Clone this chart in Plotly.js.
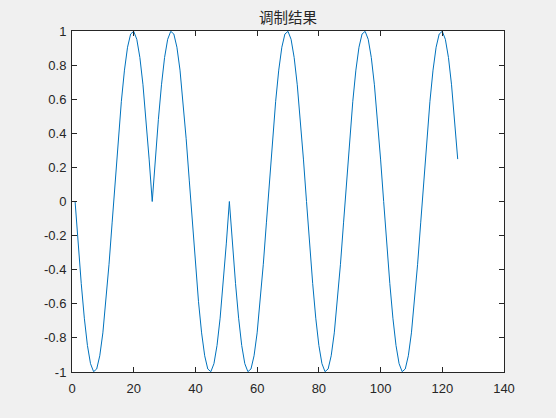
<!DOCTYPE html>
<html>
<head>
<meta charset="utf-8">
<script src="https://cdn.plot.ly/plotly-3.0.1.min.js"></script>
<style>
  html, body { margin: 0; padding: 0; background: #f0f0f0; }
  #chart { width: 556px; height: 418px; }
</style>
</head>
<body>
<div id="chart"></div>
<script>
// Sample index
const sampleIndex = [
  1,2,3,4,5,6,7,8,9,10,11,12,13,14,15,16,17,18,19,20,21,22,23,24,25,
  26,27,28,29,30,31,32,33,34,35,36,37,38,39,40,41,42,43,44,45,46,47,48,49,50,
  51,52,53,54,55,56,57,58,59,60,61,62,63,64,65,66,67,68,69,70,71,72,73,74,75,
  76,77,78,79,80,81,82,83,84,85,86,87,88,89,90,91,92,93,94,95,96,97,98,99,100,
  101,102,103,104,105,106,107,108,109,110,111,112,113,114,115,116,117,118,119,120,121,122,123,124,125
];
// Modulated signal, one array per bit period
const bit1 = [0, -0.2487, -0.4818, -0.6845, -0.8443, -0.9511, -0.9980, -0.9823, -0.9048, -0.7705, -0.5878, -0.3681, -0.1253, 0.1253, 0.3681, 0.5878, 0.7705, 0.9048, 0.9823, 0.9980, 0.9511, 0.8443, 0.6845, 0.4818, 0.2487];
const bit2 = [0, 0.2487, 0.4818, 0.6845, 0.8443, 0.9511, 0.9980, 0.9823, 0.9048, 0.7705, 0.5878, 0.3681, 0.1253, -0.1253, -0.3681, -0.5878, -0.7705, -0.9048, -0.9823, -0.9980, -0.9511, -0.8443, -0.6845, -0.4818, -0.2487];
const bit3 = [0, -0.2487, -0.4818, -0.6845, -0.8443, -0.9511, -0.9980, -0.9823, -0.9048, -0.7705, -0.5878, -0.3681, -0.1253, 0.1253, 0.3681, 0.5878, 0.7705, 0.9048, 0.9823, 0.9980, 0.9511, 0.8443, 0.6845, 0.4818, 0.2487];
const bit4 = [0, -0.2487, -0.4818, -0.6845, -0.8443, -0.9511, -0.9980, -0.9823, -0.9048, -0.7705, -0.5878, -0.3681, -0.1253, 0.1253, 0.3681, 0.5878, 0.7705, 0.9048, 0.9823, 0.9980, 0.9511, 0.8443, 0.6845, 0.4818, 0.2487];
const bit5 = [0, -0.2487, -0.4818, -0.6845, -0.8443, -0.9511, -0.9980, -0.9823, -0.9048, -0.7705, -0.5878, -0.3681, -0.1253, 0.1253, 0.3681, 0.5878, 0.7705, 0.9048, 0.9823, 0.9980, 0.9511, 0.8443, 0.6845, 0.4818, 0.2487];

const xTickVals = [0, 20, 40, 60, 80, 100, 120, 140];
const xTickText = ['0', '20', '40', '60', '80', '100', '120', '140'];
const yTickVals = [-1, -0.8, -0.6, -0.4, -0.2, 0, 0.2, 0.4, 0.6, 0.8, 1];
const yTickText = ['-1', '-0.8', '-0.6', '-0.4', '-0.2', '0', '0.2', '0.4', '0.6', '0.8', '1'];

const signal = bit1.concat(bit2, bit3, bit4, bit5);

const axisCommon = {
  showline: true, linecolor: '#262626', linewidth: 1, mirror: 'ticks',
  ticks: 'inside', ticklen: 5, tickwidth: 1, tickcolor: '#262626',
  showgrid: false, zeroline: false,
  tickfont: { family: 'Liberation Sans, Arial, sans-serif', size: 13, color: '#262626' },
  tickmode: 'array', fixedrange: true
};

Plotly.newPlot('chart', [{
  x: sampleIndex, y: signal, type: 'scatter', mode: 'lines',
  line: { color: '#0072BD', width: 1 }, hoverinfo: 'skip'
}], {
  width: 556, height: 418,
  paper_bgcolor: '#f0f0f0', plot_bgcolor: '#ffffff',
  margin: { l: 72, r: 52, t: 31, b: 46, pad: 0 },
  showlegend: false,
  title: { text: '调制结果', x: 0.518, xanchor: 'center', y: 0.957, yanchor: 'middle',
    font: { family: 'Noto Sans CJK SC, sans-serif', size: 14.5, color: '#262626' } },
  xaxis: Object.assign({}, axisCommon, { range: [0, 140], tickvals: xTickVals, ticktext: xTickText, ticklabelstandoff: 4 }),
  yaxis: Object.assign({}, axisCommon, { range: [-1, 1], tickvals: yTickVals, ticktext: yTickText, ticklabelstandoff: 2 })
}, { displayModeBar: false, staticPlot: true });
</script>
</body>
</html>
